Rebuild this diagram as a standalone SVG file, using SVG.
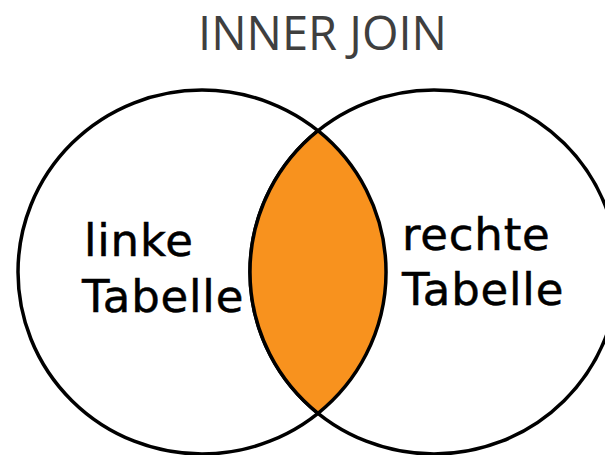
<svg xmlns="http://www.w3.org/2000/svg" width="605" height="455" viewBox="0 0 605 455">
  <style>
    .set { fill: #ffffff; stroke: #000000; stroke-width: 3.5; }
    .lens { fill: #F8921E; stroke: #000000; stroke-width: 3.5; stroke-linejoin: round; }
    .label { font-family: "DejaVu Sans", Verdana, sans-serif; font-size: 45px; fill: #000000; stroke: #000000; stroke-width: 0.5; letter-spacing: 0.8px; }
    .title { font-family: "Open Sans", "Liberation Sans", sans-serif; font-size: 47px; fill: #3f3f3f; }
  </style>
  <rect width="605" height="455" fill="#ffffff"/>
  <text class="title" x="322.5" y="50" text-anchor="middle">INNER JOIN</text>
  <g id="left-table">
    <ellipse class="set" cx="202" cy="272" rx="184" ry="182"/>
  </g>
  <g id="right-table">
    <ellipse class="set" cx="434" cy="272" rx="184" ry="182"/>
  </g>
  <g id="intersection">
    <path class="lens" d="M 318 130.7 A 184 182 0 0 0 318 413.3 A 184 182 0 0 0 318 130.7 Z"/>
  </g>
  <g id="labels">
    <text class="label" x="84" y="256">linke</text>
    <text class="label" x="82" y="312">Tabelle</text>
    <text class="label" x="402" y="250">rechte</text>
    <text class="label" x="402" y="305">Tabelle</text>
  </g>
  <g id="connectors"/>
</svg>
